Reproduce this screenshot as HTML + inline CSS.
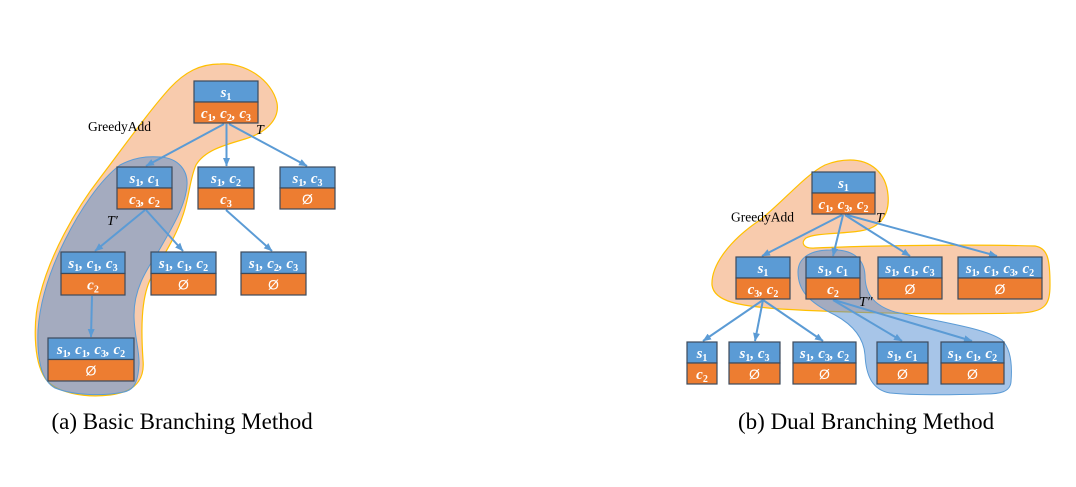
<!DOCTYPE html>
<html><head><meta charset="utf-8">
<style>
html,body{margin:0;padding:0;background:#fff;}
svg{display:block;}
.t{font-family:"Liberation Serif",serif;font-style:italic;font-weight:600;font-size:15px;fill:#fff;}
.t tspan.s{font-style:normal;font-size:10px;}
.e{font-family:"Liberation Sans",sans-serif;font-size:14px;fill:#fff;}
.lbl{font-family:"Liberation Serif",serif;font-size:13.5px;fill:#000;}
.tl{font-family:"Liberation Serif",serif;font-style:italic;font-size:14px;fill:#000;}
.cap{font-family:"Liberation Serif",serif;font-size:23px;fill:#000;}
.bt{fill:#5B9BD5;stroke:#3C4A5C;stroke-width:1.2;}
.bb{fill:#ED7D31;stroke:#3C4A5C;stroke-width:1.2;}
.ar{stroke:#5B9BD5;stroke-width:2;fill:none;marker-end:url(#ah);}
</style></head>
<body>
<svg width="1076" height="487" viewBox="0 0 1076 487" xmlns="http://www.w3.org/2000/svg">
<defs>
<marker id="ah" markerWidth="9" markerHeight="8" refX="8" refY="4" orient="auto" markerUnits="userSpaceOnUse">
<path d="M0,0.5 L8.5,4 L0,7.5 Z" fill="#5B9BD5"/>
</marker>
</defs>

<!-- ===== (a) blobs ===== -->
<path d="M220,64 C245,62 272,80 277,103 C280,120 265,133 245,139 C225,145 205,150 196,165 C190,178 189,198 183,215 C175,240 160,260 150,280 C141,300 141,330 143,360 C145,380 135,392 110,395 C85,398 55,393 45,378 C33,360 33,320 40,295 C50,255 75,210 100,178 C125,145 150,110 170,88 C185,72 200,64 220,64 Z" fill="#F8CBAD" stroke="#FFC000" stroke-width="1.2"/>
<path d="M160,157 C178,158 188,170 187,185 C186,205 172,228 158,252 C145,272 134,290 134,315 C134,335 140,352 139,365 C138,382 134,390 124,392 C105,396 75,396 55,388 C40,380 37,355 38,330 C40,300 50,270 65,240 C80,210 100,180 120,165 C133,158 145,156 160,157 Z" fill="rgb(80,140,210)" fill-opacity="0.5" stroke="#5B9BD5" stroke-width="1"/>

<!-- ===== (b) blobs ===== -->
<path d="M850,160 C870,160 886,172 888,195 C890,215 880,228 860,231 C840,234 815,233 806,238 C800,243 804,249 815,248 C860,246 960,244 1035,246 C1048,248 1050,260 1050,285 C1050,305 1045,312 1020,313 C950,315 850,313 780,309 C740,306 714,302 712,285 C711,265 730,240 760,220 C785,200 805,175 825,165 C835,161 842,160 850,160 Z" fill="#F8CBAD" stroke="#FFC000" stroke-width="1.2"/>
<path d="M830,250 C852,249 864,258 865,275 C865,292 872,305 895,312 C940,322 985,328 1002,340 C1012,350 1012,370 1011,382 C1010,392 1000,394 985,394 C950,395 910,395 890,393 C872,390 866,375 865,355 C864,340 855,326 835,315 C808,302 798,290 798,272 C798,258 810,250 830,250 Z" fill="rgb(80,140,210)" fill-opacity="0.5" stroke="#5B9BD5" stroke-width="1"/>

<!-- ===== (a) arrows ===== -->
<line class="ar" x1="224" y1="124" x2="146" y2="166"/>
<line class="ar" x1="226.5" y1="124" x2="226.5" y2="166"/>
<line class="ar" x1="229" y1="124" x2="307" y2="166"/>
<line class="ar" x1="145" y1="210" x2="95" y2="251"/>
<line class="ar" x1="146" y1="210" x2="183" y2="251"/>
<line class="ar" x1="226" y1="210" x2="272" y2="251"/>
<line class="ar" x1="92" y1="296" x2="91" y2="337"/>

<!-- ===== (b) arrows ===== -->
<line class="ar" x1="842" y1="215" x2="762" y2="256"/>
<line class="ar" x1="843" y1="215" x2="833" y2="256"/>
<line class="ar" x1="845" y1="215" x2="910" y2="256"/>
<line class="ar" x1="847" y1="215" x2="997" y2="256"/>
<line class="ar" x1="763" y1="300" x2="703" y2="341"/>
<line class="ar" x1="763" y1="300" x2="755" y2="341"/>
<line class="ar" x1="763" y1="300" x2="823" y2="341"/>
<line class="ar" x1="833" y1="300" x2="902" y2="341"/>
<line class="ar" x1="834" y1="300" x2="972" y2="341"/>

<!-- ===== (a) boxes ===== -->
<rect class="bt" x="194" y="81" width="64" height="21"/>
<rect class="bb" x="194" y="102" width="64" height="21"/>
<text class="t" x="226" y="97" text-anchor="middle">s<tspan class="s" dy="3">1</tspan></text>
<text class="t" x="226" y="118" text-anchor="middle">c<tspan class="s" dy="3">1</tspan><tspan dy="-3">, c</tspan><tspan class="s" dy="3">2</tspan><tspan dy="-3">, c</tspan><tspan class="s" dy="3">3</tspan></text>

<rect class="bt" x="117" y="167" width="55" height="21"/>
<rect class="bb" x="117" y="188" width="55" height="21"/>
<text class="t" x="144.5" y="183" text-anchor="middle">s<tspan class="s" dy="3">1</tspan><tspan dy="-3">, c</tspan><tspan class="s" dy="3">1</tspan></text>
<text class="t" x="144.5" y="204" text-anchor="middle">c<tspan class="s" dy="3">3</tspan><tspan dy="-3">, c</tspan><tspan class="s" dy="3">2</tspan></text>

<rect class="bt" x="198" y="167" width="56" height="21"/>
<rect class="bb" x="198" y="188" width="56" height="21"/>
<text class="t" x="226" y="183" text-anchor="middle">s<tspan class="s" dy="3">1</tspan><tspan dy="-3">, c</tspan><tspan class="s" dy="3">2</tspan></text>
<text class="t" x="226" y="204" text-anchor="middle">c<tspan class="s" dy="3">3</tspan></text>

<rect class="bt" x="280" y="167" width="55" height="21"/>
<rect class="bb" x="280" y="188" width="55" height="21"/>
<text class="t" x="307.5" y="183" text-anchor="middle">s<tspan class="s" dy="3">1</tspan><tspan dy="-3">, c</tspan><tspan class="s" dy="3">3</tspan></text>
<text class="e" x="307.5" y="204" text-anchor="middle">Ø</text>

<rect class="bt" x="61" y="252" width="64" height="21.5"/>
<rect class="bb" x="61" y="273.5" width="64" height="21.5"/>
<text class="t" x="93" y="268" text-anchor="middle">s<tspan class="s" dy="3">1</tspan><tspan dy="-3">, c</tspan><tspan class="s" dy="3">1</tspan><tspan dy="-3">, c</tspan><tspan class="s" dy="3">3</tspan></text>
<text class="t" x="93" y="289.5" text-anchor="middle">c<tspan class="s" dy="3">2</tspan></text>

<rect class="bt" x="151" y="252" width="65" height="21.5"/>
<rect class="bb" x="151" y="273.5" width="65" height="21.5"/>
<text class="t" x="183.5" y="268" text-anchor="middle">s<tspan class="s" dy="3">1</tspan><tspan dy="-3">, c</tspan><tspan class="s" dy="3">1</tspan><tspan dy="-3">, c</tspan><tspan class="s" dy="3">2</tspan></text>
<text class="e" x="183.5" y="289.5" text-anchor="middle">Ø</text>

<rect class="bt" x="241" y="252" width="65" height="21.5"/>
<rect class="bb" x="241" y="273.5" width="65" height="21.5"/>
<text class="t" x="273.5" y="268" text-anchor="middle">s<tspan class="s" dy="3">1</tspan><tspan dy="-3">, c</tspan><tspan class="s" dy="3">2</tspan><tspan dy="-3">, c</tspan><tspan class="s" dy="3">3</tspan></text>
<text class="e" x="273.5" y="289.5" text-anchor="middle">Ø</text>

<rect class="bt" x="48" y="338" width="86" height="21.5"/>
<rect class="bb" x="48" y="359.5" width="86" height="21.5"/>
<text class="t" x="91" y="354" text-anchor="middle">s<tspan class="s" dy="3">1</tspan><tspan dy="-3">, c</tspan><tspan class="s" dy="3">1</tspan><tspan dy="-3">, c</tspan><tspan class="s" dy="3">3</tspan><tspan dy="-3">, c</tspan><tspan class="s" dy="3">2</tspan></text>
<text class="e" x="91" y="375.5" text-anchor="middle">Ø</text>

<!-- ===== (b) boxes ===== -->
<rect class="bt" x="812" y="172" width="63" height="21"/>
<rect class="bb" x="812" y="193" width="63" height="21"/>
<text class="t" x="843.5" y="188" text-anchor="middle">s<tspan class="s" dy="3">1</tspan></text>
<text class="t" x="843.5" y="209" text-anchor="middle">c<tspan class="s" dy="3">1</tspan><tspan dy="-3">, c</tspan><tspan class="s" dy="3">3</tspan><tspan dy="-3">, c</tspan><tspan class="s" dy="3">2</tspan></text>

<rect class="bt" x="736" y="257" width="54" height="21"/>
<rect class="bb" x="736" y="278" width="54" height="21"/>
<text class="t" x="763" y="273" text-anchor="middle">s<tspan class="s" dy="3">1</tspan></text>
<text class="t" x="763" y="294" text-anchor="middle">c<tspan class="s" dy="3">3</tspan><tspan dy="-3">, c</tspan><tspan class="s" dy="3">2</tspan></text>

<rect class="bt" x="806" y="257" width="54" height="21"/>
<rect class="bb" x="806" y="278" width="54" height="21"/>
<text class="t" x="833" y="273" text-anchor="middle">s<tspan class="s" dy="3">1</tspan><tspan dy="-3">, c</tspan><tspan class="s" dy="3">1</tspan></text>
<text class="t" x="833" y="294" text-anchor="middle">c<tspan class="s" dy="3">2</tspan></text>

<rect class="bt" x="878" y="257" width="64" height="21"/>
<rect class="bb" x="878" y="278" width="64" height="21"/>
<text class="t" x="910" y="273" text-anchor="middle">s<tspan class="s" dy="3">1</tspan><tspan dy="-3">, c</tspan><tspan class="s" dy="3">1</tspan><tspan dy="-3">, c</tspan><tspan class="s" dy="3">3</tspan></text>
<text class="e" x="910" y="294" text-anchor="middle">Ø</text>

<rect class="bt" x="958" y="257" width="84" height="21"/>
<rect class="bb" x="958" y="278" width="84" height="21"/>
<text class="t" x="1000" y="273" text-anchor="middle">s<tspan class="s" dy="3">1</tspan><tspan dy="-3">, c</tspan><tspan class="s" dy="3">1</tspan><tspan dy="-3">, c</tspan><tspan class="s" dy="3">3</tspan><tspan dy="-3">, c</tspan><tspan class="s" dy="3">2</tspan></text>
<text class="e" x="1000" y="294" text-anchor="middle">Ø</text>

<rect class="bt" x="687" y="342" width="30" height="21"/>
<rect class="bb" x="687" y="363" width="30" height="21"/>
<text class="t" x="702" y="358" text-anchor="middle">s<tspan class="s" dy="3">1</tspan></text>
<text class="t" x="702" y="379" text-anchor="middle">c<tspan class="s" dy="3">2</tspan></text>

<rect class="bt" x="729" y="342" width="51" height="21"/>
<rect class="bb" x="729" y="363" width="51" height="21"/>
<text class="t" x="754.5" y="358" text-anchor="middle">s<tspan class="s" dy="3">1</tspan><tspan dy="-3">, c</tspan><tspan class="s" dy="3">3</tspan></text>
<text class="e" x="754.5" y="379" text-anchor="middle">Ø</text>

<rect class="bt" x="793" y="342" width="63" height="21"/>
<rect class="bb" x="793" y="363" width="63" height="21"/>
<text class="t" x="824.5" y="358" text-anchor="middle">s<tspan class="s" dy="3">1</tspan><tspan dy="-3">, c</tspan><tspan class="s" dy="3">3</tspan><tspan dy="-3">, c</tspan><tspan class="s" dy="3">2</tspan></text>
<text class="e" x="824.5" y="379" text-anchor="middle">Ø</text>

<rect class="bt" x="877" y="342" width="51" height="21"/>
<rect class="bb" x="877" y="363" width="51" height="21"/>
<text class="t" x="902.5" y="358" text-anchor="middle">s<tspan class="s" dy="3">1</tspan><tspan dy="-3">, c</tspan><tspan class="s" dy="3">1</tspan></text>
<text class="e" x="902.5" y="379" text-anchor="middle">Ø</text>

<rect class="bt" x="941" y="342" width="63" height="21"/>
<rect class="bb" x="941" y="363" width="63" height="21"/>
<text class="t" x="972.5" y="358" text-anchor="middle">s<tspan class="s" dy="3">1</tspan><tspan dy="-3">, c</tspan><tspan class="s" dy="3">1</tspan><tspan dy="-3">, c</tspan><tspan class="s" dy="3">2</tspan></text>
<text class="e" x="972.5" y="379" text-anchor="middle">Ø</text>

<!-- ===== labels ===== -->
<text class="lbl" x="88" y="131">GreedyAdd</text>
<text class="tl" x="256" y="134">T</text>
<text class="tl" x="107" y="225">T′</text>
<text class="lbl" x="731" y="221.5">GreedyAdd</text>
<text class="tl" x="876" y="222">T</text>
<text class="tl" x="859" y="306">T″</text>

<!-- ===== captions ===== -->
<text class="cap" x="51.5" y="429">(a) Basic Branching Method</text>
<text class="cap" x="738" y="429">(b) Dual Branching Method</text>
</svg>
</body></html>
